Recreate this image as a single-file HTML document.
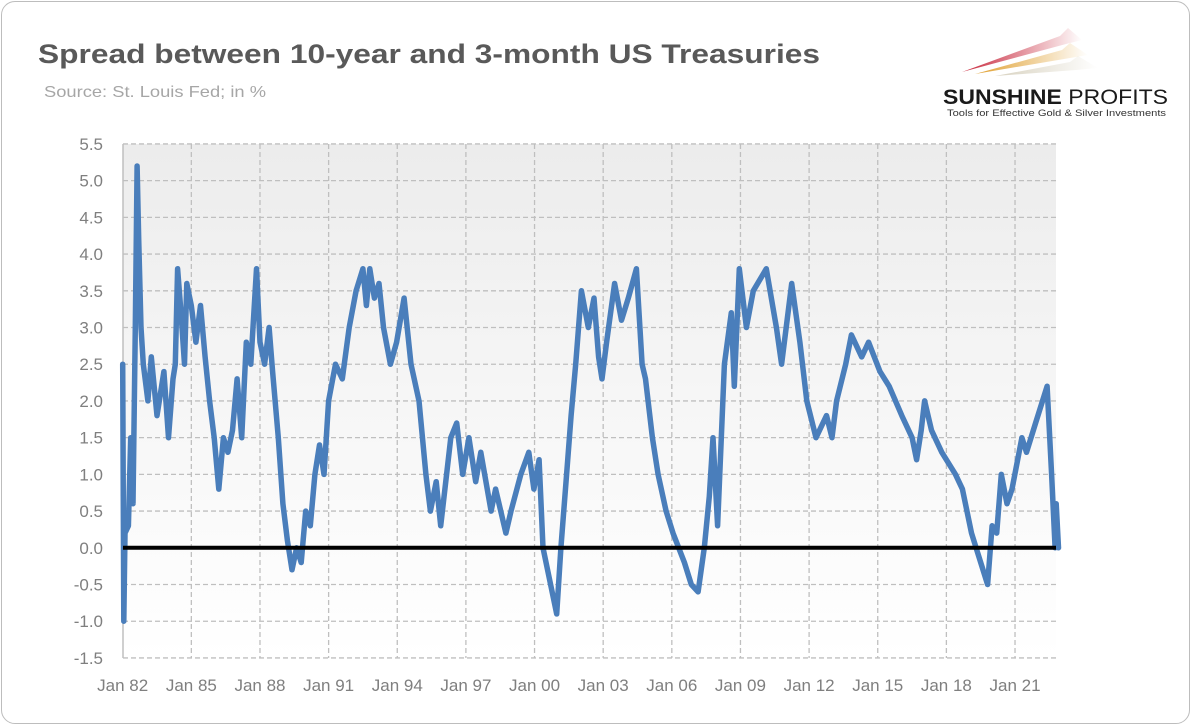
<!DOCTYPE html>
<html><head><meta charset="utf-8"><style>
body{margin:0;background:#fff;}
#frame{position:absolute;left:1px;top:1px;width:1187px;height:721px;border:1.5px solid #bdbdbd;border-radius:14px;background:#fff;overflow:hidden;}
text{font-family:"Liberation Sans",sans-serif;}
</style></head><body>
<div id="frame"></div>
<svg id="chart" width="1192" height="726" style="position:absolute;left:0;top:0">
<defs>
<linearGradient id="bg" x1="0" y1="0" x2="0" y2="1">
<stop offset="0" stop-color="#ececec"/><stop offset="0.5" stop-color="#f6f6f6"/><stop offset="1" stop-color="#ffffff"/>
</linearGradient>
<linearGradient id="fadeR" x1="0" y1="0" x2="1" y2="0"><stop offset="0" stop-color="#c8283c"/><stop offset="1" stop-color="#c8283c" stop-opacity="0"/></linearGradient>
<linearGradient id="fadeO" x1="0" y1="0" x2="1" y2="0"><stop offset="0" stop-color="#e0a030"/><stop offset="1" stop-color="#e0a030" stop-opacity="0"/></linearGradient>
<linearGradient id="fadeG" x1="0" y1="0" x2="1" y2="0"><stop offset="0" stop-color="#d8d2c0"/><stop offset="1" stop-color="#d8d2c0" stop-opacity="0"/></linearGradient>
</defs>
<text x="38" y="63" font-size="27" font-weight="bold" fill="#595959" textLength="782" lengthAdjust="spacingAndGlyphs">Spread between 10-year and 3-month US Treasuries</text>
<text x="44" y="97" font-size="16" fill="#a6a6a6" textLength="222" lengthAdjust="spacingAndGlyphs">Source: St. Louis Fed; in %</text>
<g>
<polygon points="962,72 1060,36 1068,28 1082,40 1066,44" fill="url(#fadeR)"/>
<polygon points="975,74 1062,50 1070,43 1088,55 1070,58" fill="url(#fadeO)"/>
<polygon points="995,76 1070,62 1078,56 1098,68 1076,70" fill="url(#fadeG)"/>
<text x="943" y="104" font-size="21" font-weight="bold" fill="#1a1a1a" textLength="225" lengthAdjust="spacingAndGlyphs">SUNSHINE <tspan font-weight="normal">PROFITS</tspan></text>
<text x="947" y="116" font-size="9" fill="#333" textLength="219" lengthAdjust="spacingAndGlyphs">Tools for Effective Gold &amp; Silver Investments</text>
</g>
<rect x="123" y="144" width="933" height="514" fill="url(#bg)"/>
<g id="grid"></g><g id="axes"></g><g id="series"></g>
</svg>
<script>
const yTicks=[5.5,5.0,4.5,4.0,3.5,3.0,2.5,2.0,1.5,1.0,0.5,0.0,-0.5,-1.0,-1.5];
const xTickLabels=["Jan 82","Jan 85","Jan 88","Jan 91","Jan 94","Jan 97","Jan 00","Jan 03","Jan 06","Jan 09","Jan 12","Jan 15","Jan 18","Jan 21"];
const xTickYears=[1982,1985,1988,1991,1994,1997,2000,2003,2006,2009,2012,2015,2018,2021];
const dates=[1982.0,1982.05,1982.1,1982.25,1982.35,1982.45,1982.55,1982.63,1982.7,1982.8,1982.9,1983.1,1983.25,1983.5,1983.8,1984.0,1984.2,1984.3,1984.4,1984.55,1984.7,1984.8,1985.0,1985.2,1985.4,1985.6,1985.8,1986.0,1986.2,1986.4,1986.6,1986.8,1987.0,1987.2,1987.4,1987.6,1987.85,1988.0,1988.2,1988.4,1988.55,1988.8,1989.0,1989.2,1989.4,1989.6,1989.8,1990.0,1990.2,1990.4,1990.6,1990.8,1991.0,1991.3,1991.6,1991.9,1992.2,1992.5,1992.65,1992.8,1993.0,1993.2,1993.4,1993.7,1993.97,1994.3,1994.6,1994.95,1995.25,1995.45,1995.7,1995.9,1996.34,1996.6,1996.86,1997.13,1997.43,1997.65,1998.1,1998.3,1998.75,1998.97,1999.4,1999.75,1999.97,2000.2,2000.37,2000.7,2000.97,2001.15,2001.4,2001.6,2001.8,2002.05,2002.35,2002.6,2002.8,2002.95,2003.15,2003.5,2003.8,2004.1,2004.45,2004.7,2004.85,2005.15,2005.4,2005.75,2006.05,2006.55,2006.85,2007.15,2007.42,2007.64,2007.8,2008.0,2008.3,2008.6,2008.73,2008.95,2009.26,2009.56,2010.13,2010.57,2010.8,2011.24,2011.6,2011.9,2012.3,2012.76,2013.0,2013.2,2013.6,2013.85,2014.3,2014.6,2015.1,2015.5,2016.05,2016.5,2016.7,2016.9,2017.05,2017.35,2017.8,2018.4,2018.7,2019.1,2019.3,2019.8,2020.0,2020.2,2020.4,2020.65,2020.87,2021.3,2021.5,2021.9,2022.4,2022.6,2022.75,2022.8,2022.9];
const spread=[2.5,-1.0,0.2,0.3,1.5,0.6,3.0,5.2,4.2,3.0,2.5,2.0,2.6,1.8,2.4,1.5,2.3,2.5,3.8,3.2,2.5,3.6,3.3,2.8,3.3,2.6,2.0,1.5,0.8,1.5,1.3,1.6,2.3,1.5,2.8,2.5,3.8,2.8,2.5,3.0,2.4,1.5,0.6,0.1,-0.3,0.0,-0.2,0.5,0.3,1.0,1.4,1.0,2.0,2.5,2.3,3.0,3.5,3.8,3.3,3.8,3.4,3.6,3.0,2.5,2.8,3.4,2.5,2.0,1.0,0.5,0.9,0.3,1.5,1.7,1.0,1.5,0.9,1.3,0.5,0.8,0.2,0.5,1.0,1.3,0.8,1.2,0.0,-0.5,-0.9,0.0,1.0,1.8,2.5,3.5,3.0,3.4,2.6,2.3,2.8,3.6,3.1,3.4,3.8,2.5,2.3,1.5,1.0,0.5,0.2,-0.2,-0.5,-0.6,0.0,0.7,1.5,0.3,2.5,3.2,2.2,3.8,3.0,3.5,3.8,3.0,2.5,3.6,2.8,2.0,1.5,1.8,1.5,2.0,2.5,2.9,2.6,2.8,2.4,2.2,1.8,1.5,1.2,1.6,2.0,1.6,1.3,1.0,0.8,0.2,0.0,-0.5,0.3,0.2,1.0,0.6,0.8,1.5,1.3,1.7,2.2,1.0,0.0,0.6,0.0];
const NS="http://www.w3.org/2000/svg";
const X0=122.7,PXY=22.88,Y0=547.8,PXV=73.43;
function xs(t){return X0+(t-1982)*PXY;}
function ys(v){return Y0-v*PXV;}
const grid=document.getElementById('grid'),axes=document.getElementById('axes'),series=document.getElementById('series');
yTicks.forEach(v=>{
 const l=document.createElementNS(NS,'line');
 
 
 l.setAttribute('x1',123);l.setAttribute('x2',1056);l.setAttribute('y1',ys(v));l.setAttribute('y2',ys(v));
 l.setAttribute('stroke','#bfbfbf');l.setAttribute('stroke-width','1.3');l.setAttribute('stroke-dasharray','5,3');
 grid.appendChild(l);
 const t=document.createElementNS(NS,'text');
 
 
 t.setAttribute('x',103);t.setAttribute('y',ys(v)+6);t.setAttribute('text-anchor','end');
 t.setAttribute('font-size','17');t.setAttribute('fill','#7f7f7f');
 t.textContent=v.toFixed(1);axes.appendChild(t);
});
xTickYears.forEach((yr,i)=>{
 if(i>0){
 const l=document.createElementNS(NS,'line');
 
 
 l.setAttribute('x1',xs(yr));l.setAttribute('x2',xs(yr));l.setAttribute('y1',144);l.setAttribute('y2',658);
 l.setAttribute('stroke','#bfbfbf');l.setAttribute('stroke-width','1.3');l.setAttribute('stroke-dasharray','5,3');
 grid.appendChild(l);}
 const t=document.createElementNS(NS,'text');
 
 
 t.setAttribute('x',xs(yr));t.setAttribute('y',691);t.setAttribute('text-anchor','middle');
 t.setAttribute('font-size','17');t.setAttribute('fill','#7f7f7f');
 t.textContent=xTickLabels[i];axes.appendChild(t);
});
const ax=document.createElementNS(NS,'line');


ax.setAttribute('x1',123);ax.setAttribute('x2',123);ax.setAttribute('y1',144);ax.setAttribute('y2',658);
ax.setAttribute('stroke','#bfbfbf');ax.setAttribute('stroke-width','1.5');axes.appendChild(ax);
const p=document.createElementNS(NS,'polyline');


p.setAttribute('points',dates.map((d,i)=>xs(d).toFixed(1)+','+ys(spread[i]).toFixed(1)).join(' '));
p.setAttribute('fill','none');p.setAttribute('stroke','#4a7ebb');p.setAttribute('stroke-width','5.5');p.setAttribute('stroke-linejoin','round');p.setAttribute('stroke-linecap','round');
series.appendChild(p);
const z=document.createElementNS(NS,'line');


z.setAttribute('x1',123);z.setAttribute('x2',1056);z.setAttribute('y1',ys(0));z.setAttribute('y2',ys(0));
z.setAttribute('stroke','#000');z.setAttribute('stroke-width','4');series.appendChild(z);
</script>
</body></html>
